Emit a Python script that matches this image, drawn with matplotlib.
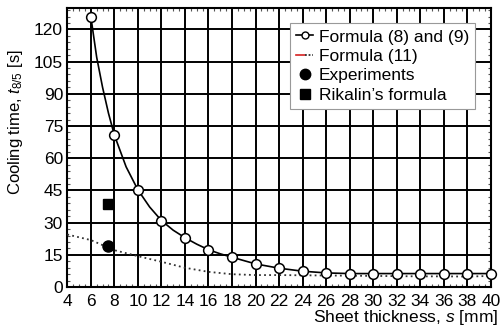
import numpy as np
import matplotlib
matplotlib.use('Agg')
import matplotlib.pyplot as plt
from matplotlib.lines import Line2D
from matplotlib.legend_handler import HandlerTuple
from matplotlib.ticker import MultipleLocator

plt.rcParams['font.family'] = ['Liberation Sans', 'DejaVu Sans']
plt.rcParams['mathtext.fontset'] = 'custom'
plt.rcParams['mathtext.it'] = 'Liberation Sans:italic'
plt.rcParams['mathtext.rm'] = 'Liberation Sans'

# Formula (8) and (9): markers
s_marker = [6, 8, 10, 12, 14, 16, 18, 20, 22, 24, 26, 28, 30, 32, 34, 36, 38, 40]
t_marker = [126, 70.8, 45.3, 31.0, 23.0, 17.4, 13.9, 10.8, 8.8, 7.4, 6.6, 6.3, 6.3, 6.3, 6.3, 6.3, 6.3, 6.3]

# Formula (8) and (9): curve
s_curve = [6, 6.5, 7, 7.5, 8, 9, 10, 11, 12, 13, 14, 15, 16, 17, 18, 20, 22, 24, 26, 28, 30, 32, 34, 36, 38, 40]
t_curve = [126, 107, 93, 81, 70.8, 56, 45.3, 37.3, 31.0, 26.5, 23.0, 20.0, 17.4, 15.5, 13.9, 10.8, 8.8, 7.4, 6.6, 6.3, 6.3, 6.3, 6.3, 6.3, 6.3, 6.3]

# Formula (11)
s_f11 = [4, 6, 8, 10, 12, 14, 16, 18, 20, 22, 24, 26, 28, 30, 32, 34, 36, 38, 40]
t_f11 = [24.5, 21.9, 17.2, 14.4, 11.8, 9.0, 7.1, 6.0, 5.6, 5.6, 5.5, 5.4, 5.3, 5.2, 5.1, 5.0, 5.0, 4.9, 5.2]

# Experiments and Rikalin's formula
s_exp = [7.5]
t_exp = [19.1]
s_rik = [7.5]
t_rik = [38.6]

fig = plt.figure(figsize=(5.02, 3.30), dpi=100)
ax = fig.add_axes([0.134, 0.130, 0.844, 0.846])

ax.set_xlim(4, 40)
ax.set_ylim(0, 130)
ax.xaxis.set_major_locator(MultipleLocator(2))
ax.yaxis.set_major_locator(MultipleLocator(15))
ax.yaxis.set_minor_locator(MultipleLocator(3))
ax.xaxis.set_minor_locator(MultipleLocator(0.5))
ax.grid(True, which='major', color='black', linewidth=1.4)
ax.set_axisbelow(True)
for sp in ax.spines.values():
    sp.set_linewidth(1.5)
ax.tick_params(which='major', length=0, labelsize=12.5)
ax.tick_params(axis='x', which='major', pad=5)
ax.tick_params(axis='y', which='major', pad=3)
ax.tick_params(which='minor', direction='in', length=2, width=0.8, top=True, right=True, color='#555555')

ax.plot(s_f11, t_f11, color='#333333', linestyle=(0, (1, 1.8)), linewidth=1.3, zorder=3)
ax.plot(s_curve, t_curve, color='black', linewidth=1.2, zorder=4)
ax.plot(s_marker, t_marker, linestyle='none', marker='o', markersize=7,
        markerfacecolor='white', markeredgecolor='black', markeredgewidth=1.1,
        zorder=5, clip_on=False)
ax.plot(s_exp, t_exp, linestyle='none', marker='o', markersize=8, color='black', zorder=5)
ax.plot(s_rik, t_rik, linestyle='none', marker='s', markersize=7, color='black', zorder=5)

ax.set_ylabel(r'Cooling time, $t_{8/5}$ [s]', fontsize=12, labelpad=4)
ax.yaxis.set_label_coords(-0.1, 0.59)
ax.set_xlabel(r'Sheet thickness, $s$ [mm]', fontsize=12.5)
ax.xaxis.set_label_coords(1.017, -0.075)
ax.xaxis.label.set_horizontalalignment('right')

h1 = Line2D([], [], color='black', linewidth=1.2, marker='o', markersize=5,
            markerfacecolor='white', markeredgecolor='black', markevery=[1])
h2a = Line2D([], [], color='#d62020', linewidth=1.2)
h2b = Line2D([], [], color='#333333', linestyle=(0, (1, 1)), linewidth=1.3)
h3 = Line2D([], [], linestyle='none', marker='o', markersize=7.5, color='black')
h4 = Line2D([], [], linestyle='none', marker='s', markersize=7, color='black')
leg = ax.legend([h1, (h2a, h2b), h3, h4],
                ['Formula (8) and (9)', 'Formula (11)', 'Experiments', "Rikalin\u2019s formula"],
                handler_map={tuple: HandlerTuple(ndivide=None, pad=0)},
                loc='upper right', bbox_to_anchor=(0.962, 0.945),
                fontsize=12.5, handlelength=1.0, handletextpad=0.3,
                labelspacing=0.25, borderpad=0.35, borderaxespad=0,
                fancybox=False, framealpha=1, edgecolor='#999999')
leg.get_frame().set_linewidth(0.8)
leg.set_zorder(10)

fig.savefig('out.png', dpi=100, facecolor='white')
